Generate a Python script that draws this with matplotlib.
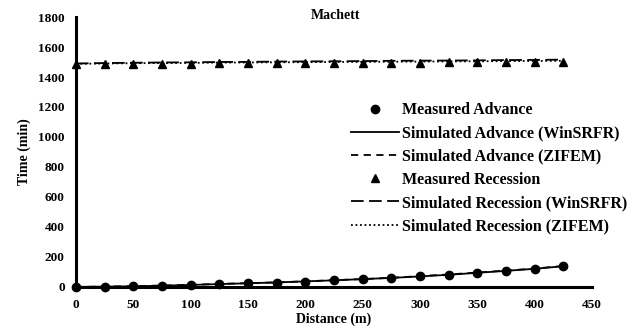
import numpy as np
import matplotlib
matplotlib.use('Agg')
import matplotlib.pyplot as plt

plt.rcParams['font.family'] = ['Liberation Serif', 'DejaVu Serif']
plt.rcParams['font.weight'] = 'bold'
plt.rcParams['axes.labelweight'] = 'bold'

# ── Data ─────────────────────────────────────────────────────────────────────
distance = [0, 25, 50, 75, 100, 125, 150, 175, 200, 225, 250, 275, 300, 325,
            350, 375, 400, 425]
adv_measured = [0, 1, 3, 9, 15, 20, 25, 29, 36, 44, 51, 58, 73, 82, 96, 109,
                118, 140]
adv_winsrfr = [0, 2, 4, 8, 13, 19, 24, 30, 37, 44, 52, 60, 70, 81, 94, 107,
               121, 138]
adv_zifem = [0, 2, 5, 9, 14, 20, 25, 30, 37, 45, 52, 61, 72, 83, 96, 109,
             122, 140]
rec_measured = [1485, 1488, 1489, 1490, 1490, 1491, 1492, 1493, 1494, 1494,
                1495, 1496, 1496, 1497, 1497, 1498, 1498, 1500]
rec_winsrfr = [1490, 1493, 1495, 1497, 1498, 1500, 1501, 1503, 1504, 1505,
               1506, 1508, 1509, 1510, 1511, 1513, 1514, 1516]
rec_zifem = [1488, 1490, 1492, 1493, 1494, 1496, 1497, 1498, 1499, 1500,
             1501, 1502, 1503, 1504, 1505, 1506, 1507, 1508]

x_ticks = np.arange(0, 451, 50)
y_ticks = np.arange(0, 1801, 200)

# ── Plot ─────────────────────────────────────────────────────────────────────
fig = plt.figure(figsize=(6.38, 3.34), dpi=100)
ax = fig.add_axes([0.119, 0.141, 0.809, 0.808])

ax.plot(distance, adv_measured, 'o', color='black', ms=6,
        label='Measured Advance', zorder=5)
ax.plot(distance, adv_winsrfr, '-', color='black', lw=1.3,
        label='Simulated Advance (WinSRFR)')
ax.plot(distance, adv_zifem, color='black', lw=1.3, dashes=(4, 3),
        label='Simulated Advance (ZIFEM)')
ax.plot(distance, rec_measured, '^', color='black', ms=6,
        label='Measured Recession', zorder=5)
ax.plot(distance, rec_winsrfr, color='black', lw=1.3, dashes=(7, 3),
        label='Simulated Recession (WinSRFR)')
ax.plot(distance, rec_zifem, color='black', lw=1.3, dashes=(1, 1.5),
        label='Simulated Recession (ZIFEM)')

ax.set_xlim(0, 450)
ax.set_ylim(0, 1800)
ax.set_xticks(x_ticks)
ax.set_yticks(y_ticks)
ax.set_xticklabels([str(v) for v in x_ticks], fontweight='bold', fontsize=9.5)
ax.set_yticklabels([str(v) for v in y_ticks], fontweight='bold', fontsize=9.5)
ax.tick_params(axis='x', length=0, pad=9)
ax.tick_params(axis='y', length=0, pad=8)

for side in ['top', 'right']:
    ax.spines[side].set_visible(False)
for side in ['left', 'bottom']:
    ax.spines[side].set_linewidth(2.2)
    ax.spines[side].set_color('black')

ax.set_xlabel('Distance (m)', fontsize=10, fontweight='bold', labelpad=1)
ax.set_ylabel('Time (min)', fontsize=10, fontweight='bold', labelpad=5)
ax.text(0.503, 1.005, 'Machett', transform=ax.transAxes, ha='center',
        va='center', fontsize=10, fontweight='bold')

leg = ax.legend(loc='center left', bbox_to_anchor=(0.52, 0.44), frameon=False,
                prop={'size': 11.5, 'weight': 'bold'}, handlelength=3.0,
                handletextpad=0.2, labelspacing=0.45, borderaxespad=0)

for line in ax.get_lines():
    line.set_clip_on(False)

fig.savefig('out.png', dpi=100)
